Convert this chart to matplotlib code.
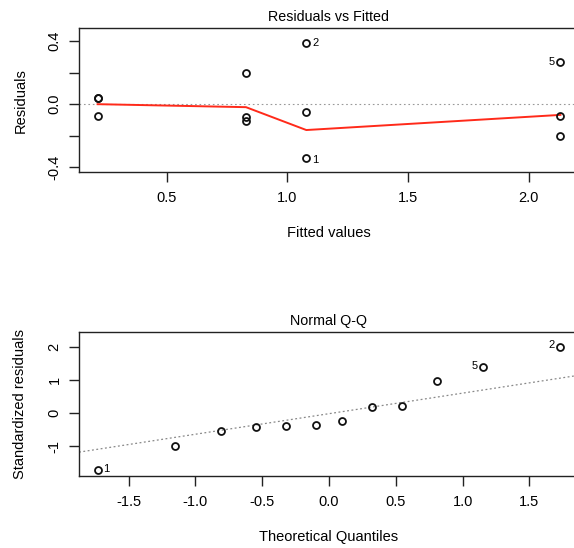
import matplotlib
matplotlib.use("Agg")
import matplotlib.pyplot as plt
import numpy as np

plt.rcParams["font.family"] = ["Liberation Sans", "DejaVu Sans"]
plt.rcParams["axes.unicode_minus"] = False

# residuals vs fitted values of the model
fitted = [0.214, 0.214, 0.214, 0.829, 0.829, 0.829,
          1.079, 1.079, 1.079, 2.132, 2.132, 2.132]
resid = [0.038, 0.042, -0.075, 0.195, -0.083, -0.109,
         0.391, -0.047, -0.340, 0.267, -0.072, -0.199]
obs_id = ["", "", "", "", "", "", "2", "", "1", "5", "", ""]

# smoother through the residuals
smooth_x = [0.214, 0.829, 1.079, 2.132]
smooth_y = [0.0, -0.019, -0.164, -0.068]

# normal Q-Q
theo_q = [-1.73, -1.15, -0.81, -0.55, -0.32, -0.10,
          0.10, 0.32, 0.55, 0.81, 1.15, 1.73]
std_resid = [-1.74, -1.01, -0.55, -0.415, -0.38, -0.37,
             -0.24, 0.20, 0.21, 0.99, 1.40, 2.02]
qq_id = ["1", "", "", "", "", "", "", "", "", "", "5", "2"]
qq_line = (-0.015, 0.625)  # intercept, slope

W, H = 574, 548
fig = plt.figure(figsize=(W / 100, H / 100), dpi=100)


def frame(ax):
    ax.spines["right"].set_visible(False)
    for s in ("top", "left", "bottom"):
        ax.spines[s].set_linewidth(1.0)
        ax.spines[s].set_color("#222222")
    ax.tick_params(direction="out", length=7.5, width=1.0, color="#222222",
                   labelsize=10.5, pad=6)
    ax.tick_params(axis="y", labelrotation=90, pad=5)
    plt.setp(ax.get_yticklabels(), va="center")


circle = dict(marker="o", ms=5, mfc="none", mec="#111111", mew=1.3, ls="none")

# Residuals vs Fitted
ax1 = fig.add_axes([79 / W, 1 - 172.3 / H, 500 / W, 144.3 / H])
ax1.axhline(0, color="#999999", lw=0.8, ls=(0, (1.5, 2.5)))
ax1.plot(smooth_x, smooth_y, color="#ff2a1a", lw=1.4)
ax1.plot(fitted, resid, **circle)
for x, y, t in zip(fitted, resid, obs_id):
    if not t:
        continue
    if t == "5":
        ax1.text(x - 0.025, y, t, fontsize=8, ha="right", va="center")
    elif y < 0:
        ax1.text(x + 0.025, y - 0.012, t, fontsize=8, ha="left", va="center")
    else:
        ax1.text(x + 0.025, y, t, fontsize=8, ha="left", va="center")
ax1.set_xlim(0.137, 2.209)
ax1.set_ylim(-0.432, 0.483)
ax1.set_xticks([0.5, 1.0, 1.5, 2.0])
ax1.set_yticks([-0.4, -0.2, 0.0, 0.2, 0.4])
ax1.set_yticklabels(["-0.4", "", "0.0", "", "0.4"])
frame(ax1)
ax1.set_title("Residuals vs Fitted", fontsize=10.3, pad=5)
ax1.set_xlabel("Fitted values", fontsize=10.5, labelpad=15)
ax1.set_ylabel("Residuals", fontsize=10.5, labelpad=14.5)

# Normal Q-Q
ax2 = fig.add_axes([79 / W, 1 - 476 / H, 500 / W, 143.7 / H])
ax2.axline((0, qq_line[0]), slope=qq_line[1], color="#888888", lw=0.9,
           ls=(0, (1.5, 2.0)))
ax2.plot(theo_q, std_resid, **circle)
for x, y, t in zip(theo_q, std_resid, qq_id):
    if not t:
        continue
    if x < 0:
        ax2.text(x + 0.04, y + 0.05, t, fontsize=8, ha="left", va="center")
    else:
        ax2.text(x - 0.04, y + 0.05, t, fontsize=8, ha="right", va="center")
ax2.set_xlim(-1.871, 1.871)
ax2.set_ylim(-1.91, 2.46)
ax2.set_xticks([-1.5, -1.0, -0.5, 0.0, 0.5, 1.0, 1.5])
ax2.set_yticks([-1, 0, 1, 2])
frame(ax2)
ax2.set_title("Normal Q-Q", fontsize=10.3, pad=5)
ax2.set_xlabel("Theoretical Quantiles", fontsize=10.5, labelpad=15)
ax2.set_ylabel("Standardized residuals", fontsize=10.5, labelpad=14.5)

fig.savefig("out.png", dpi=100)
